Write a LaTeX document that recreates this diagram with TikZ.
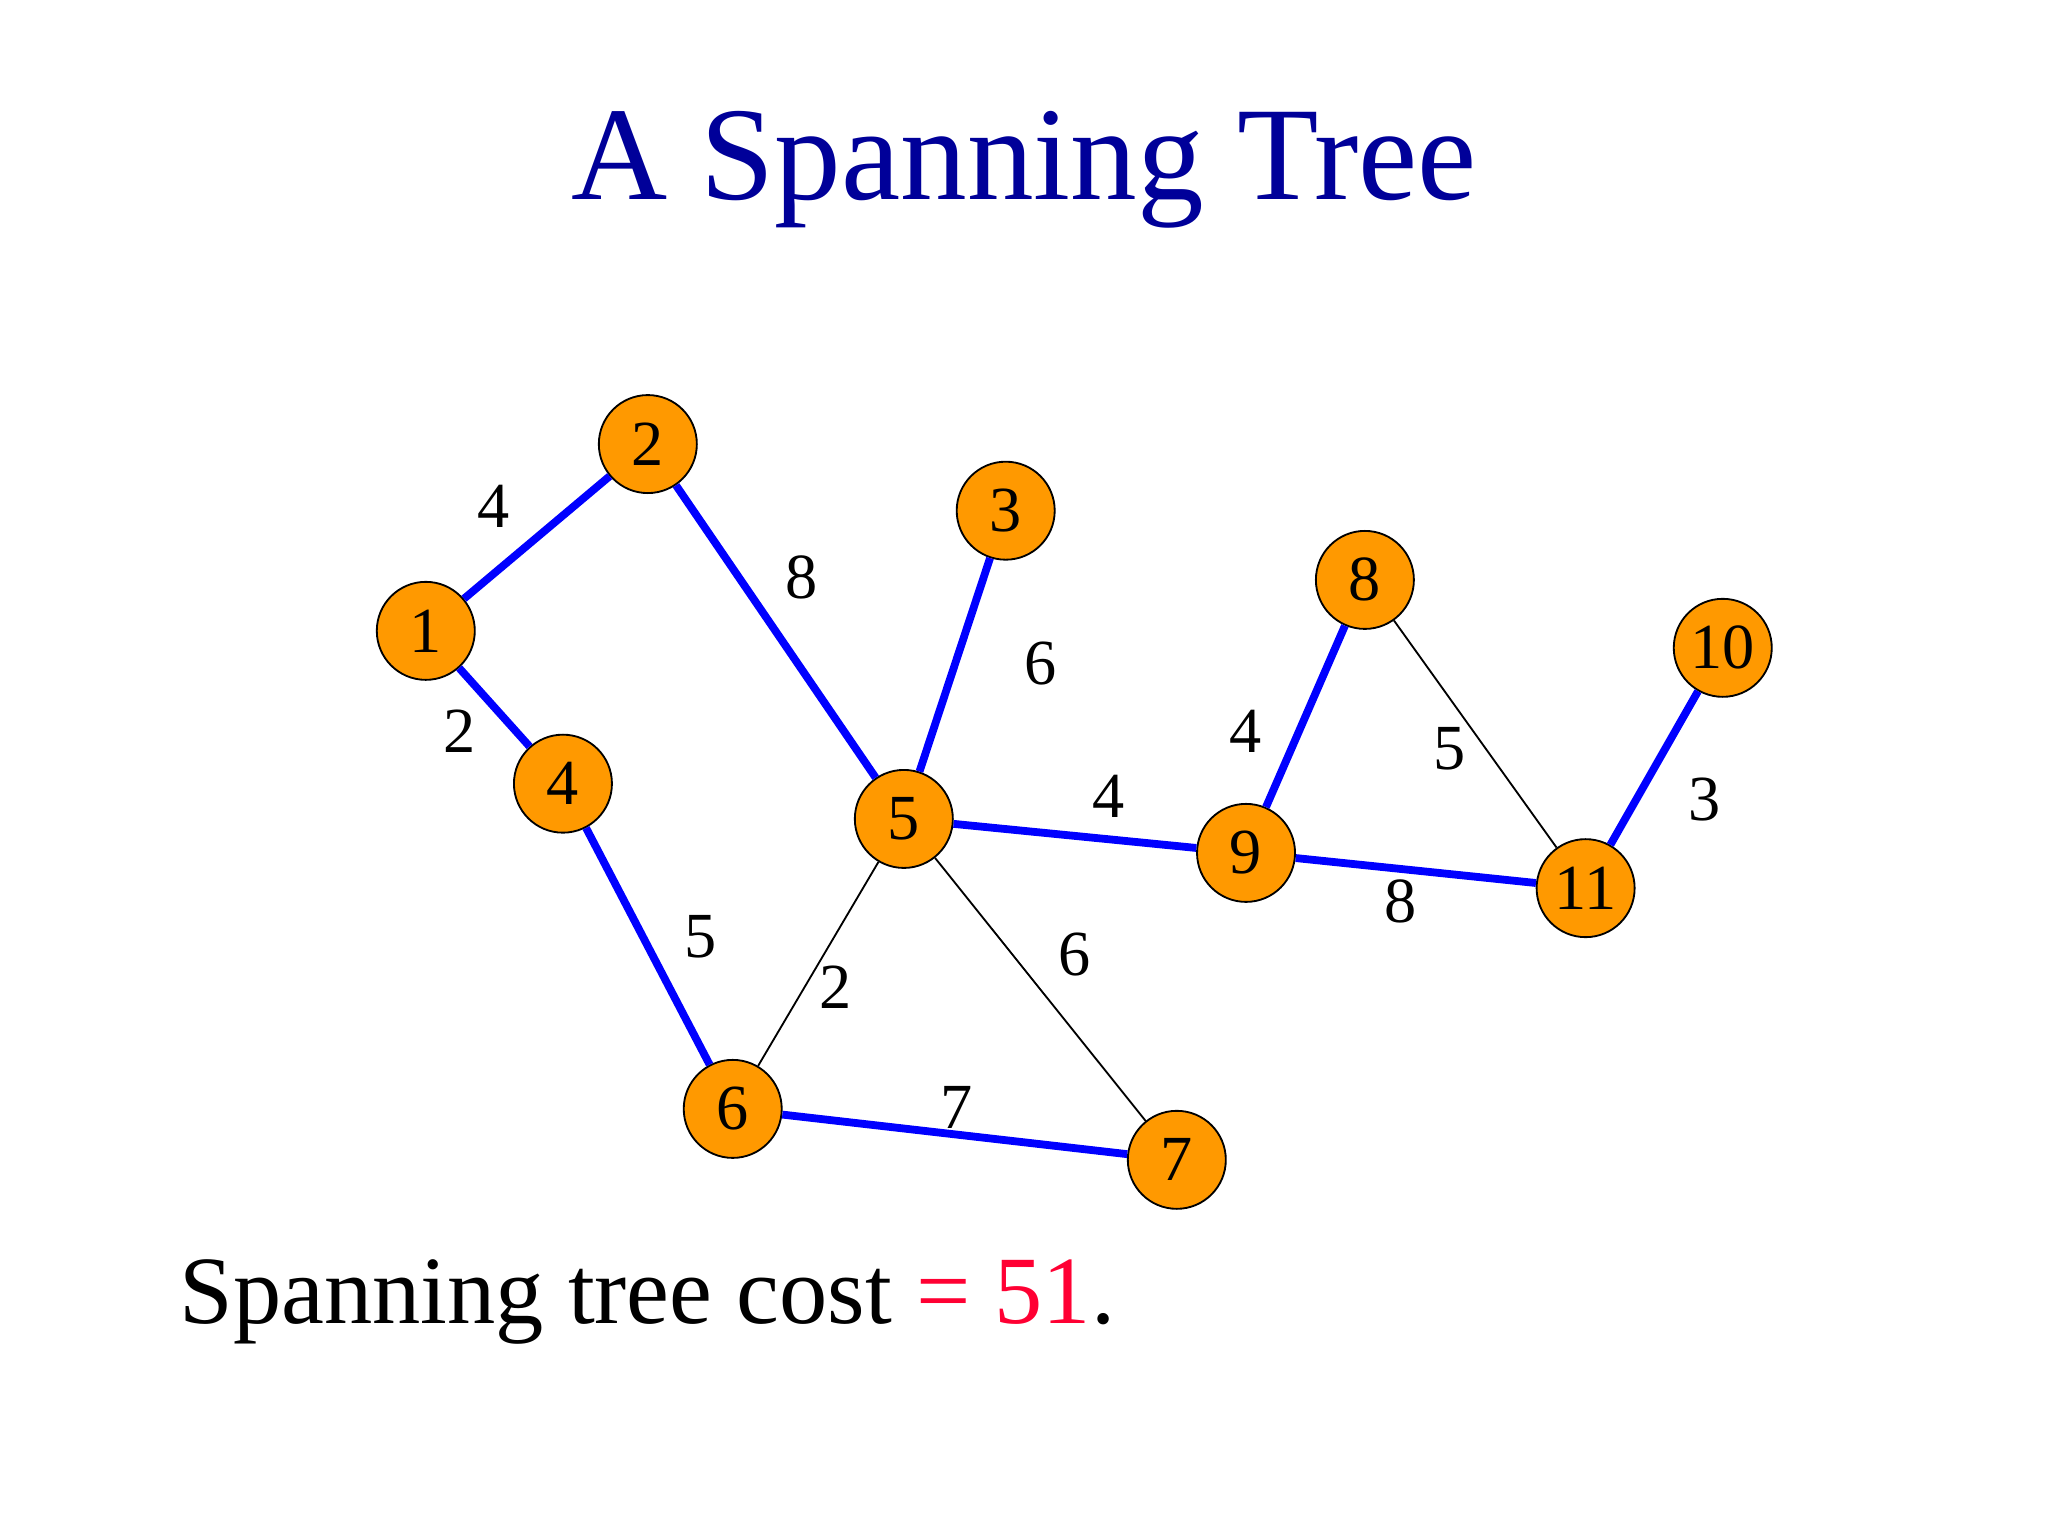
\documentclass[tikz,border=0pt]{standalone}
\usepackage{fontspec}
\setmainfont{Liberation Serif}
\usetikzlibrary{positioning}
\definecolor{titleblue}{HTML}{000099}
\definecolor{vertexorange}{HTML}{FF9900}
\definecolor{treeblue}{HTML}{0000FF}
\definecolor{costred}{HTML}{FF0033}

\begin{document}
\begin{tikzpicture}[x=0.01cm, y=-0.01cm,
    vertex/.style={circle, draw=black, fill=vertexorange, minimum size=0.75cm,
      inner sep=0pt, font=\fontsize{14}{14}\selectfont},
    tree/.style={treeblue, line width=1.7pt},
    other/.style={black, line width=0.4pt},
    weight/.style={font=\fontsize{14}{14}\selectfont}]
  \useasboundingbox (0,0) rectangle (1568,1176);
  \node[titleblue, font=\fontsize{29}{29}\selectfont] (title) at (784,130) {A Spanning Tree};

  \foreach \n/\x/\y in {1/326/483, 2/496/340, 3/770/391, 4/431/600, 5/692/627, 6/561/849,
                        7/901/888, 8/1045/444, 9/954/653, 10/1319/496, 11/1214/680}
  {
    \node[vertex] (v\n) at (\x,\y) {\raisebox{-0.35ex}{\n}};
  }

  \foreach \a/\b in {1/2, 1/4, 2/5, 3/5, 4/6, 5/9, 8/9, 9/11, 10/11, 6/7}
  {
    \draw[tree] (v\a) -- (v\b);
  }
  \foreach \a/\b in {5/6, 5/7, 8/11}
  {
    \draw[other] (v\a) -- (v\b);
  }

  \foreach \w/\x/\y in {4/378/388, 2/352/560, 8/614/442, 6/797/508, 5/536/717, 2/640/756,
                        4/849/610, 6/823/731, 7/732/848, 4/954/560, 5/1110/573,
                        8/1072/690, 3/1305/612}
  {
    \node[weight] at (\x,\y) {\w};
  }

  \node[anchor=west, font=\fontsize{21}{21}\selectfont] (cost) at (125,997)
    {Spanning tree cost {\color{costred}= 51}.};
\end{tikzpicture}
\end{document}
